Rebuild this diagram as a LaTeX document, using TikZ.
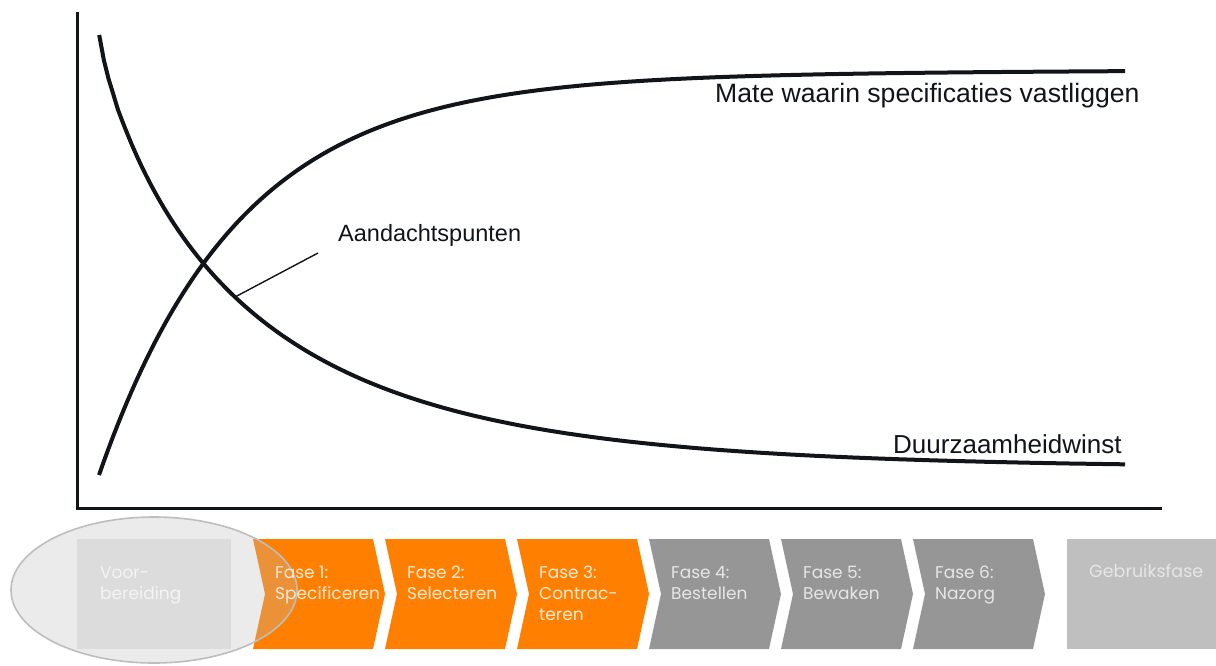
\documentclass[tikz,border=0pt]{standalone}
\usepackage{fontspec}
\setmainfont{Liberation Sans}
\newfontfamily\phasefont{Poppins}
\definecolor{phaseorange}{HTML}{FF8000}
\definecolor{phasegray}{HTML}{969696}
\definecolor{usegray}{HTML}{BFBFBF}
\definecolor{prepgray}{HTML}{EAEAEA}
\definecolor{ringfill}{HTML}{BEBEBE}
\definecolor{ringline}{HTML}{BDBDBD}
\definecolor{ink}{HTML}{111418}
\definecolor{orangetext}{HTML}{FDEBD8}
\definecolor{graytext}{HTML}{E6E6E6}
\definecolor{preptext}{HTML}{F4F4F4}

% chevron: #1 left x, #2 fill colour
\newcommand{\phasechev}[2]{%
  \fill[#2] (#1,539) -- ++(120,0) -- ++(12,55) -- ++(-12,55) -- ++(-120,0) -- ++(12,-55) -- cycle;}

\begin{document}
\begin{tikzpicture}[x=1pt,y=-1pt,
  axis/.style={ink, line width=3pt},
  curve/.style={ink, line width=4pt},
  leader/.style={ink, line width=1.4pt},
  chartlabel/.style={inner sep=0pt, anchor=base west, font=\fontsize{26}{30}\selectfont, text=ink},
  phaselabel/.style={inner sep=0pt, anchor=north west, align=left,
    font=\phasefont\fontsize{17}{21}\selectfont}]
\useasboundingbox (0,0) rectangle (1216,665);

% axes
\coordinate (ytop) at (77,12);
\coordinate (origin) at (77,508);
\coordinate (xend) at (1162,508);
\draw[axis] (ytop) -- (origin) -- (xend);

% rising curve: degree to which specifications are fixed
\draw[curve] plot[domain=99:1125, samples=220]
  (\x, {475 - 400*(1-exp(-(\x-99)/139)) - 0.004*(\x-99)});
% falling curve: achievable sustainability gain
\draw[curve] plot[domain=99.2:1125, samples=220]
  (\x, {33 + 435*(1-exp(-((\x-99)/148)^0.807))});

% labels
\node[chartlabel, font=\fontsize{26.6}{30}\selectfont] (spec) at (715,102) {Mate waarin specificaties vastliggen};
\node[chartlabel] (gain) at (893,453) {Duurzaamheidwinst};
\node[chartlabel, font=\fontsize{23.5}{28}\selectfont] (focus) at (338,241) {Aandachtspunten};
\coordinate (onCurve) at (235,297);
\coordinate (leadEnd) at (318,253);
\draw[leader] (onCurve) -- (leadEnd);

% phases
\fill[prepgray] (77,539) rectangle (231,649);
\phasechev{253}{phaseorange}
\phasechev{385}{phaseorange}
\phasechev{517}{phaseorange}
\phasechev{649}{phasegray}
\phasechev{781}{phasegray}
\phasechev{913}{phasegray}
\fill[usegray] (1067,539) rectangle (1216,649);

% highlight ring over the preparation step
\draw[ringline, line width=1.6pt, fill=ringfill, fill opacity=0.3] (154,590) ellipse [x radius=143, y radius=73];

\node[phaselabel, text=preptext] (prep) at (100,566) {Voor-\\bereiding};
\node[phaselabel, text=orangetext] (f1) at (275,566) {Fase 1:\\Specificeren};
\node[phaselabel, text=orangetext] (f2) at (407,566) {Fase 2:\\Selecteren};
\node[phaselabel, text=orangetext] (f3) at (539,566) {Fase 3:\\Contrac-\\teren};
\node[phaselabel, text=graytext] (f4) at (671,566) {Fase 4:\\Bestellen};
\node[phaselabel, text=graytext] (f5) at (803,566) {Fase 5:\\Bewaken};
\node[phaselabel, text=graytext] (f6) at (935,566) {Fase 6:\\Nazorg};
\node[phaselabel, text=graytext, font=\phasefont\fontsize{17.5}{21}\selectfont] (use) at (1089,564) {Gebruiksfase};
\end{tikzpicture}
\end{document}
